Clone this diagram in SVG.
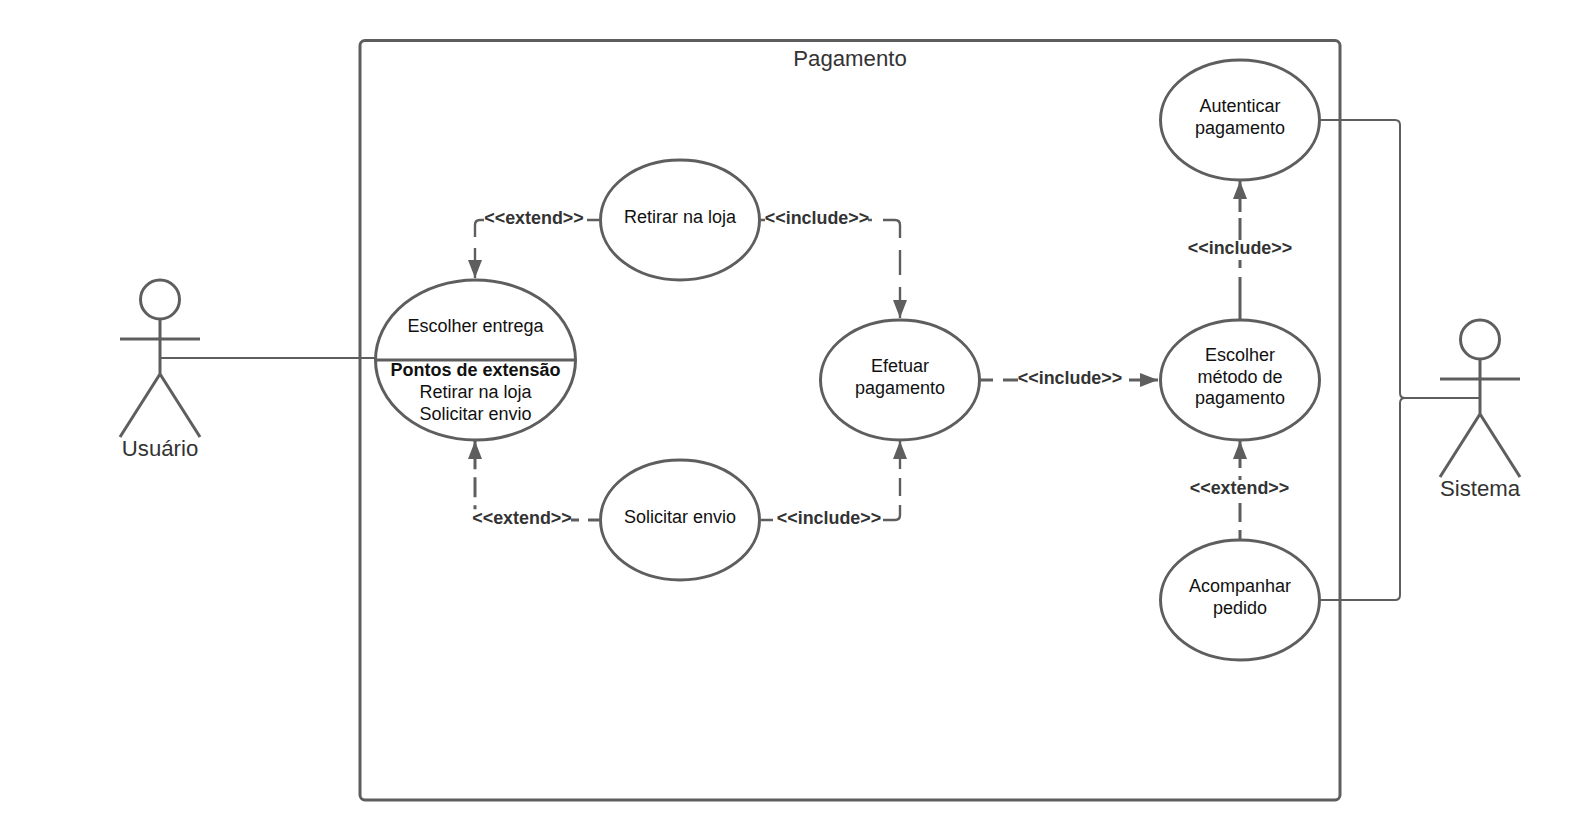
<svg xmlns="http://www.w3.org/2000/svg" width="1590" height="840" viewBox="0 0 1590 840">
<style>
text{font-family:"Liberation Sans",Arial,sans-serif;text-anchor:middle}
.uc{fill:#fff;stroke:#5e5e5e;stroke-width:3}
.t{font-size:18px;fill:#111}
.b{font-size:18px;font-weight:bold;fill:#111}
.l{font-size:17.9px;font-weight:bold;fill:#333}
.a{font-size:22.2px;fill:#333}
.actor{fill:none;stroke:#5e5e5e;stroke-width:3}
.solid{fill:none;stroke:#5e5e5e;stroke-width:2}
.dash{fill:none;stroke:#5e5e5e;stroke-width:3;marker-end:url(#arrow)}
.thin{stroke-width:2.4}
</style>
<defs>
<marker id="arrow" markerUnits="userSpaceOnUse" markerWidth="19" markerHeight="14" refX="18" refY="7" orient="auto">
<path d="M0 0L18 7L0 14Z" fill="#5e5e5e"/>
</marker>
</defs>
<g id="frame">
<rect x="360" y="40.5" width="980" height="759.5" rx="5" fill="#fff" stroke="#5e5e5e" stroke-width="3"/>
<text class="a" x="850" y="66">Pagamento</text>
</g>
<g id="connectors">
<path class="solid" d="M160 358H375"/>
<path class="solid" d="M1321 120H1395Q1400 120 1400 125V393Q1400 398 1405 398H1480"/>
<path class="solid" d="M1321 600H1395Q1400 600 1400 595V403Q1400 398 1405 398"/>
<path class="dash thin" stroke-dasharray="12 103 24 11 60" d="M599 220H480Q475 220 475 225V278"/>
<path class="dash thin" stroke-dasharray="4 103 4 11 33 12 25 12 40" d="M761 220H895Q900 220 900 225V318"/>
<path class="dash" stroke-dasharray="11 9 8 104.7 4 8 20 8 60" d="M599 520H480Q475 520 475 515V441"/>
<path class="dash thin" stroke-dasharray="12 110 30 9 18 9 40" d="M761 520H895Q900 520 900 515V441"/>
<path class="dash" stroke-dasharray="13 10 15 111 40" d="M980 380H1158"/>
<path class="dash" stroke-dasharray="43 9 8 20 22 6 40" d="M1240 320V181"/>
<path class="dash" stroke-dasharray="10 8 19 23 4 8 40" d="M1240 540V441"/>
<text class="l" x="534" y="223.700">&lt;&lt;extend&gt;&gt;</text>
<text class="l" x="817" y="223.700">&lt;&lt;include&gt;&gt;</text>
<text class="l" x="522" y="523.700">&lt;&lt;extend&gt;&gt;</text>
<text class="l" x="829" y="523.700">&lt;&lt;include&gt;&gt;</text>
<text class="l" x="1070" y="383.700">&lt;&lt;include&gt;&gt;</text>
<text class="l" x="1240" y="253.700">&lt;&lt;include&gt;&gt;</text>
<text class="l" x="1239.500" y="493.700">&lt;&lt;extend&gt;&gt;</text>
</g>
<g id="usuario">
<circle class="actor" cx="160" cy="299.500" r="19.500"/>
<path class="actor" d="M120 339H200M160 319V374M160 374L120 437M160 374L200 437"/>
<text class="a" x="160" y="456">Usuário</text>
</g>
<g id="sistema">
<circle class="actor" cx="1480" cy="339.500" r="19.500"/>
<path class="actor" d="M1440 379H1520M1480 359V414M1480 414L1440 477M1480 414L1520 477"/>
<text class="a" x="1480" y="496">Sistema</text>
</g>
<g id="escolher-entrega">
<ellipse class="uc" cx="475.500" cy="360" rx="100" ry="80"/>
<path class="actor" d="M375 360H576"/>
<text class="t" x="475.500" y="332">Escolher entrega</text>
<text class="b" x="475.500" y="376">Pontos de extensão</text>
<text class="t" x="475.500" y="398">Retirar na loja</text>
<text class="t" x="475.500" y="420">Solicitar envio</text>
</g>
<g id="retirar-na-loja">
<ellipse class="uc" cx="680" cy="220" rx="79.500" ry="60"/>
<text class="t" x="680" y="223">Retirar na loja</text>
</g>
<g id="solicitar-envio">
<ellipse class="uc" cx="680" cy="520" rx="79.500" ry="60"/>
<text class="t" x="680" y="523">Solicitar envio</text>
</g>
<g id="efetuar-pagamento">
<ellipse class="uc" cx="900" cy="380" rx="79.500" ry="60"/>
<text class="t" x="900" y="372">Efetuar</text>
<text class="t" x="900" y="393.500">pagamento</text>
</g>
<g id="autenticar-pagamento">
<ellipse class="uc" cx="1240" cy="120" rx="79.500" ry="60"/>
<text class="t" x="1240" y="112">Autenticar</text>
<text class="t" x="1240" y="133.500">pagamento</text>
</g>
<g id="escolher-metodo">
<ellipse class="uc" cx="1240" cy="380" rx="79.500" ry="60"/>
<text class="t" x="1240" y="360.500">Escolher</text>
<text class="t" x="1240" y="382.500">método de</text>
<text class="t" x="1240" y="404">pagamento</text>
</g>
<g id="acompanhar-pedido">
<ellipse class="uc" cx="1240" cy="600" rx="79.500" ry="60"/>
<text class="t" x="1240" y="591.500">Acompanhar</text>
<text class="t" x="1240" y="613.500">pedido</text>
</g>
</svg>
